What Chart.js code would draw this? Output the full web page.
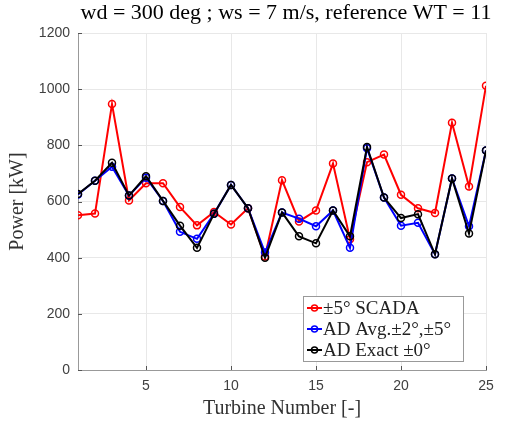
<!DOCTYPE html>
<html>
<head>
<meta charset="utf-8">
<script src="https://cdn.jsdelivr.net/npm/chart.js@4"></script>
<style>
  html, body { margin: 0; padding: 0; background: #fff; }
  #wrap { width: 517px; height: 423px; }
</style>
</head>
<body>
<div id="wrap"><canvas id="powerChart" width="517" height="423"></canvas></div>
<script>
// Turbine numbers and power per turbine [kW]
const turbines = [1,2,3,4,5,6,7,8,9,10,11,12,13,14,15,16,17,18,19,20,21,22,23,24,25];
const scadaPower = [551,557,947,604,665,665,580,515,563,518,576,404,676,529,568,735,466,740,767,624,576,559,880,653,1012];
const adAvgPower = [625,674,724,621,685,602,492,467,556,659,576,418,561,539,512,568,435,790,614,514,524,412,682,512,782];
const adExactPower = [627,674,738,621,690,602,514,435,556,659,576,400,561,476,451,568,476,794,614,541,555,412,682,486,782];
const xTicks = [5,10,15,20,25];
const yTicks = [0,200,400,600,800,1000,1200];

const serif = '"Liberation Serif", "DejaVu Serif", serif';
const sans = '"Liberation Sans", Arial, sans-serif';

function series(label, values, color, order) {
    return {
        label: label,
        data: turbines.map((t, i) => ({ x: t, y: values[i] })),
        borderColor: color,
        backgroundColor: 'rgba(0,0,0,0)',
        borderWidth: 2,
        pointRadius: 3.5,
        pointBorderWidth: 1.5,
        pointBorderColor: color,
        pointBackgroundColor: 'rgba(0,0,0,0)',
        tension: 0,
        order: order
    };
}

// title, inward ticks and the boxed legend inside the axes
const extras = {
    id: 'extras',
    afterDraw(chart) {
        const ctx = chart.ctx;
        const area = chart.chartArea;
        const xs = chart.scales.x, ys = chart.scales.y;
        ctx.save();

        ctx.fillStyle = '#000';
        ctx.font = '22px ' + serif;
        ctx.textAlign = 'center';
        ctx.textBaseline = 'middle';
        ctx.fillText('wd = 300 deg ; ws = 7 m/s, reference WT = 11', 286, 13);

        ctx.strokeStyle = '#555';
        ctx.lineWidth = 1;
        ctx.beginPath();
        xTicks.forEach(v => {
            const px = Math.round(xs.getPixelForValue(v)) + 0.5;
            ctx.moveTo(px, area.bottom);
            ctx.lineTo(px, area.bottom - 4);
        });
        yTicks.forEach(v => {
            const py = Math.round(ys.getPixelForValue(v)) + 0.5;
            ctx.moveTo(area.left, py);
            ctx.lineTo(area.left + 4, py);
        });
        ctx.stroke();

        // legend
        const bx = 303, by = 296, bw = 160, bh = 65;
        ctx.fillStyle = '#fff';
        ctx.fillRect(bx, by, bw, bh);
        ctx.strokeStyle = '#999';
        ctx.strokeRect(bx + 0.5, by + 0.5, bw, bh);
        ctx.font = '19px ' + serif;
        ctx.textAlign = 'left';
        chart.data.datasets.forEach((ds, i) => {
            const y = by + 12 + i * 21;
            ctx.strokeStyle = ds.borderColor;
            ctx.lineWidth = 2;
            ctx.beginPath();
            ctx.moveTo(bx + 4, y);
            ctx.lineTo(bx + 19, y);
            ctx.stroke();
            ctx.lineWidth = 1.5;
            ctx.beginPath();
            ctx.arc(bx + 11.5, y, 3, 0, Math.PI * 2);
            ctx.stroke();
            ctx.fillStyle = '#222';
            ctx.fillText(ds.label, bx + 20, y + 1);
        });
        ctx.restore();
    }
};

const ctxPower = document.getElementById('powerChart').getContext('2d');
const powerChart = new Chart(ctxPower, {
    type: 'line',
    data: {
        datasets: [
            series('\u00b15\u00b0 SCADA', scadaPower, '#ff0000', 2),
            series('AD Avg.\u00b12\u00b0,\u00b15\u00b0', adAvgPower, '#0000ff', 1),
            series('AD Exact \u00b10\u00b0', adExactPower, '#000000', 0)
        ]
    },
    options: {
        responsive: false,
        animation: false,
        layout: { padding: { top: 33, right: 31, left: 0, bottom: 0 } },
        plugins: {
            legend: { display: false },
            tooltip: { enabled: false }
        },
        scales: {
            x: {
                type: 'linear',
                min: 1,
                max: 25,
                afterBuildTicks: axis => { axis.ticks = xTicks.map(v => ({ value: v })); },
                afterFit: axis => { axis.height = 53; },
                grid: { color: '#e8e8e8', drawTicks: false },
                border: { color: '#999', width: 1 },
                ticks: { padding: 8, color: '#404040', font: { family: sans, size: 14 } },
                title: {
                    display: true,
                    text: 'Turbine Number [-]',
                    color: '#333',
                    font: { family: serif, size: 20 },
                    padding: { top: 0, bottom: 2 }
                }
            },
            y: {
                min: 0,
                max: 1200,
                afterBuildTicks: axis => { axis.ticks = yTicks.map(v => ({ value: v })); },
                afterFit: axis => { axis.width = 78; },
                grid: { color: '#e8e8e8', drawTicks: false },
                border: { color: '#999', width: 1 },
                ticks: {
                    padding: 8,
                    color: '#404040',
                    font: { family: sans, size: 14 },
                    callback: v => String(v)
                },
                title: {
                    display: true,
                    text: 'Power [kW]',
                    color: '#333',
                    font: { family: serif, size: 20 },
                    padding: { top: 6, bottom: 0 }
                }
            }
        }
    },
    plugins: [extras]
});
</script>
</body>
</html>
